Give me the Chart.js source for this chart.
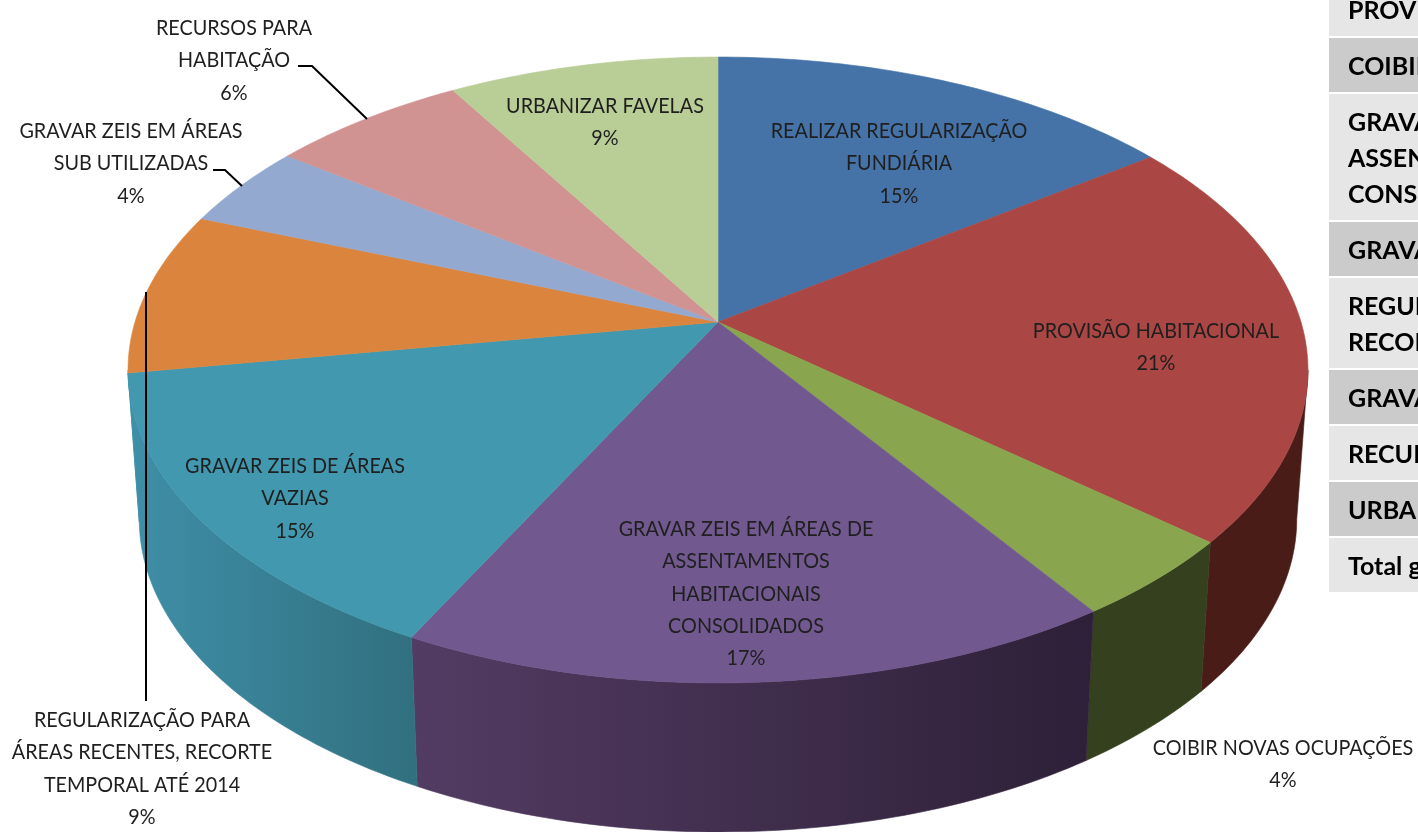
<!DOCTYPE html>
<html lang="pt"><head><meta charset="utf-8">
<script src="https://cdn.jsdelivr.net/npm/chart.js@4"></script>
<style>
html,body{margin:0;padding:0;background:#fff;width:1418px;height:832px;overflow:hidden}
#c{position:absolute;left:0;top:0;display:block}
#tbl{position:absolute;left:1329px;top:-18px;width:89px;overflow:hidden;font:bold 25px Lato,Carlito,sans-serif;color:#000}
#tbl div.r{box-sizing:border-box;padding:9px 0 9px 19px;margin-bottom:2px;white-space:nowrap;line-height:36px}
</style></head><body>
<canvas id="c" width="1418" height="832"></canvas>
<div id="tbl"></div>
<script>
const categories = ["REALIZAR REGULARIZAÇÃO FUNDIÁRIA","PROVISÃO HABITACIONAL","COIBIR NOVAS OCUPAÇÕES","GRAVAR ZEIS EM ÁREAS DE ASSENTAMENTOS HABITACIONAIS CONSOLIDADOS","GRAVAR ZEIS DE ÁREAS VAZIAS","REGULARIZAÇÃO PARA ÁREAS RECENTES, RECORTE TEMPORAL ATÉ 2014","GRAVAR ZEIS EM ÁREAS SUB UTILIZADAS","RECURSOS PARA HABITAÇÃO","URBANIZAR FAVELAS"];
const values = [15.0,21.25,4.25,17.0,14.9,8.4,4.3,6.3,8.6];
const percentLabels = ["15%","21%","4%","17%","15%","9%","4%","6%","9%"];
const labelLines = [
 ["REALIZAR REGULARIZAÇÃO","FUNDIÁRIA"],["PROVISÃO HABITACIONAL"],["COIBIR NOVAS OCUPAÇÕES"],
 ["GRAVAR ZEIS EM ÁREAS DE","ASSENTAMENTOS","HABITACIONAIS","CONSOLIDADOS"],["GRAVAR ZEIS DE ÁREAS","VAZIAS"],
 ["REGULARIZAÇÃO PARA","ÁREAS RECENTES, RECORTE","TEMPORAL ATÉ 2014"],["GRAVAR ZEIS EM ÁREAS","SUB UTILIZADAS"],["RECURSOS PARA","HABITAÇÃO"],["URBANIZAR FAVELAS"]];
const topColors = ["#4573a7","#aa4643","#89a54e","#71588f","#4198af","#db843d","#93a9cf","#d19392","#b9cd96"];
const wallColors = [
 ["#2a4565","#2a4565"],["#4a1c18","#4a1c18"],["#35401e","#35401e"],["#533c63","#2e2038"],["#3f8fa8","#31707f"],
 ["#3f8fa8","#3f8fa8"],["#5a6a85","#5a6a85"],["#805a59","#805a59"],["#72805c","#72805c"]];
const tableRows = [["PROVISÃO HABITACIONAL"],["COIBIR NOVAS OCUPAÇÕES"],["GRAVAR ZEIS EM ÁREAS DE","ASSENTAMENTOS HABITACIONAIS","CONSOLIDADOS"],["GRAVAR ZEIS DE ÁREAS VAZIAS"],["REGULARIZAÇÃO PARA ÁREAS RECENTES,","RECORTE TEMPORAL ATÉ 2014"],["GRAVAR ZEIS EM ÁREAS SUB UTILIZADAS"],["RECURSOS PARA HABITAÇÃO"],["URBANIZAR FAVELAS"],["Total geral"]];

// layout (positions only)
const labelAnchors = [[899,131],[1156,331],[1283,748],[746,529],[295,466],[142,720],[131,131],[234,28],[605,106]];
const lineGap = 32.3;
const leaders = [[[298,66],[312,66],[367,119]],[[213,170],[225,170],[242,186]],[[146,292],[146,701]]];

const P = {cx:718, cy:322, A:583, B:305.6, k:0.1533, shrink:0.981, depth:149};
function proj(a, low){
  const u=Math.cos(a), v=Math.sin(a), d=1-P.k*v;
  let x=P.A*u/d, y=P.B*v/d;
  if(low){x*=P.shrink; y=y+P.depth;}
  return [P.cx+x,P.cy+y];
}
const pie3d = {
  id:'pie3d',
  beforeDatasetsDraw(chart){
    const ctx=chart.ctx, arcs=chart.getDatasetMeta(0).data;
    const STEP=Math.PI/180, A0=Math.asin(P.k), A1=Math.PI-A0;
    // side walls: only the front of the disc is visible
    arcs.forEach((e,i)=>{
      const s=Math.max(e.startAngle,A0), t=Math.min(e.endAngle,A1);
      if(t<=s)return;
      const pts=[],low=[];
      for(let a=s;a<t;a+=STEP){pts.push(proj(a,false));low.push(proj(a,true));}
      pts.push(proj(t,false));low.push(proj(t,true));
      low.reverse();
      const xs=pts.map(p=>p[0]);
      const g=ctx.createLinearGradient(Math.min(...xs),0,Math.max(...xs),0);
      g.addColorStop(0,wallColors[i][0]);g.addColorStop(1,wallColors[i][1]);
      ctx.fillStyle=g;ctx.strokeStyle=g;ctx.lineWidth=0.6;
      ctx.beginPath();
      pts.concat(low).forEach((p,n)=>n?ctx.lineTo(p[0],p[1]):ctx.moveTo(p[0],p[1]));
      ctx.closePath();ctx.fill();ctx.stroke();
    });
    // top face
    arcs.forEach((e,i)=>{
      const col=e.options.backgroundColor;
      ctx.fillStyle=col;ctx.strokeStyle=col;ctx.lineWidth=0.6;
      ctx.beginPath();ctx.moveTo(P.cx,P.cy);
      for(let a=e.startAngle;a<e.endAngle;a+=STEP){const p=proj(a,false);ctx.lineTo(p[0],p[1]);}
      const q=proj(e.endAngle,false);ctx.lineTo(q[0],q[1]);
      ctx.closePath();ctx.fill();ctx.stroke();
    });
    return false;
  },
  afterDraw(chart){
    const ctx=chart.ctx;
    ctx.save();
    ctx.strokeStyle='#000';ctx.lineWidth=2;
    leaders.forEach(l=>{ctx.beginPath();l.forEach((p,n)=>n?ctx.lineTo(p[0],p[1]):ctx.moveTo(p[0],p[1]));ctx.stroke();});
    ctx.fillStyle='#1f1f1f';ctx.textAlign='center';ctx.textBaseline='middle';
    ctx.font='21.5px Lato, Carlito, sans-serif';
    labelLines.forEach((ls,i)=>{
      const [x,y]=labelAnchors[i];
      ls.concat(percentLabels[i]).forEach((t,n)=>{
        ctx.save();ctx.translate(x,y+n*lineGap);ctx.scale(0.92,1);ctx.fillText(t,0,0);ctx.restore();
      });
    });
    ctx.restore();
  }
};
new Chart(document.getElementById('c'),{
  type:'pie',
  data:{labels:categories,datasets:[{data:values,backgroundColor:topColors,borderWidth:0}]},
  options:{responsive:false,animation:false,devicePixelRatio:1,
    plugins:{legend:{display:false},tooltip:{enabled:false}}},
  plugins:[pie3d]
});
const tbl=document.getElementById('tbl');
tableRows.forEach((lines,i)=>{
  const d=document.createElement('div');d.className='r';
  d.style.background=i%2?'#cbcbcb':'#e6e6e6';
  d.innerHTML=lines.join('<br>');
  tbl.appendChild(d);
});
</script>
</body></html>
